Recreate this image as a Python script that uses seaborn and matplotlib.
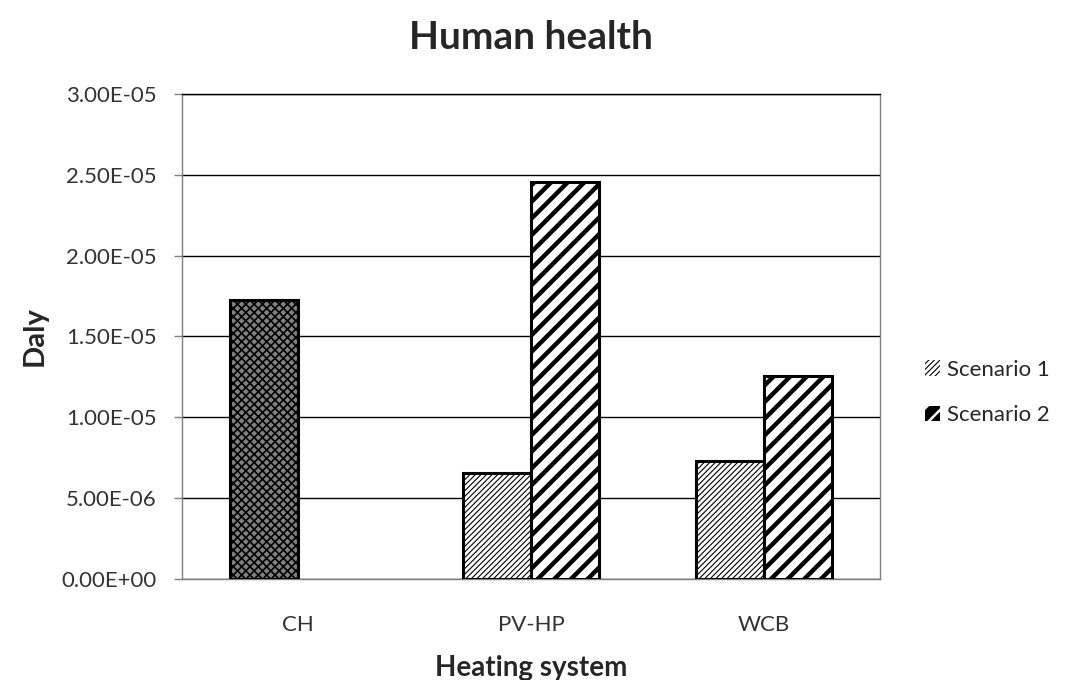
import numpy as np
import pandas as pd
import matplotlib
matplotlib.use("Agg")
import matplotlib.pyplot as plt
import seaborn as sns
from matplotlib.patches import Patch
from matplotlib.ticker import FuncFormatter, MultipleLocator

# Dati
systems = ["CH", "PV-HP", "WCB"]
scenarios = ["Scenario 1", "Scenario 2"]
scenario1 = [1.725e-05, 6.55e-06, 7.3e-06]
scenario2 = [0.0, 2.455e-05, 1.255e-05]

df = pd.DataFrame({
    "system": systems * 2,
    "scenario": [scenarios[0]] * 3 + [scenarios[1]] * 3,
    "daly": scenario1 + scenario2,
})

sns.set_theme(style="white")
plt.rcParams["font.family"] = ["Lato", "DejaVu Sans"]
plt.rcParams["hatch.linewidth"] = 0.8

fig = plt.figure(figsize=(10.8, 6.8), dpi=100)
ax = fig.add_axes([0.1685, 0.1485, 0.6465, 0.7135])

sns.barplot(data=df, x="system", y="daly", hue="scenario", order=systems,
            hue_order=scenarios, width=0.585, palette=["white", "white"],
            edgecolor="black", linewidth=2.2, ax=ax, legend=False, zorder=3)

# pattern delle barre
for bar in ax.containers[0]:
    bar.set_hatch("//////")
for bar in ax.containers[1]:
    bar.set_hatch("//")
    if hasattr(bar, "set_hatch_linewidth"):
        bar.set_hatch_linewidth(3.2)
# CH ha un pattern diverso, e niente scenario 2
ch = ax.containers[0][0]
ch.set_facecolor("#808080")
ch.set_hatch("xxxx")
if hasattr(ch, "set_hatch_linewidth"):
    ch.set_hatch_linewidth(1.2)
ax.containers[1][0].set_visible(False)

ax.set_ylim(0, 3e-05)
ax.yaxis.set_major_locator(MultipleLocator(5e-06))
ax.yaxis.set_major_formatter(FuncFormatter(lambda v, p: f"{v:.2E}"))
ax.yaxis.grid(True, color="black", linewidth=1.0, zorder=0)
ax.set_axisbelow(True)

for s in ax.spines.values():
    s.set_color("#7f7f7f")
    s.set_linewidth(1.0)
ax.spines["top"].set_color("black")

ax.tick_params(axis="y", labelsize=16, colors="#7f7f7f", labelcolor="#333333",
               left=True, length=6, width=1, pad=12)
ax.tick_params(axis="x", labelsize=16, labelcolor="#333333", bottom=False, pad=20)

ax.set_title("Human health", fontsize=28, fontweight="bold", pad=32)
ax.set_ylabel("Daly", fontsize=21, fontweight="bold", labelpad=10)
ax.set_xlabel("Heating system", fontsize=20, fontweight="bold", labelpad=14)

handles = [
    Patch(facecolor="white", edgecolor="black", hatch="//////", label=scenarios[0]),
    Patch(facecolor="black", edgecolor="white", hatch="//", label=scenarios[1]),
]
leg = ax.legend(handles=handles, loc="center left", bbox_to_anchor=(1.035, 0.384),
                frameon=False, fontsize=16, handlelength=0.7, handleheight=0.7,
                handletextpad=0.3, labelspacing=1.15)
for h in leg.legend_handles:
    h.set_linewidth(0)
if hasattr(leg.legend_handles[1], "set_hatch_linewidth"):
    leg.legend_handles[1].set_hatch_linewidth(1.8)

fig.savefig("out.png", dpi=100)
